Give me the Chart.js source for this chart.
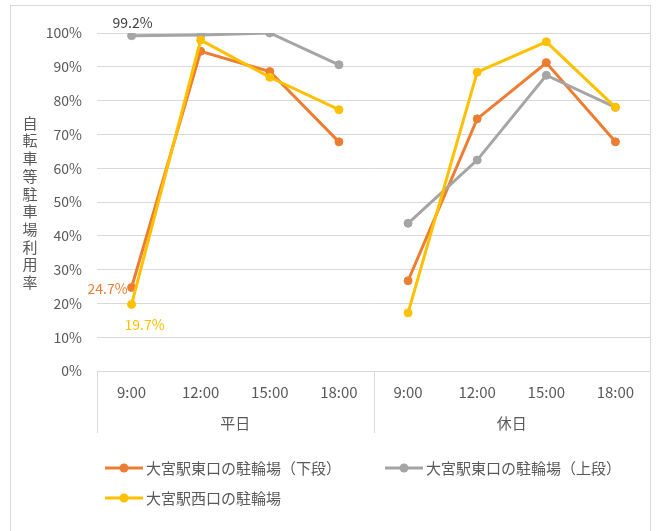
<!DOCTYPE html>
<html>
<head>
<meta charset="utf-8">
<script src="https://cdn.jsdelivr.net/npm/chart.js@4/dist/chart.umd.min.js"></script>
<style>
  html, body { margin: 0; padding: 0; background: #fff; }
  #wrap { width: 658px; height: 531px; }
</style>
</head>
<body>
<div id="wrap"><canvas id="chart" width="658" height="531"></canvas></div>
<script>
// データ
const groups = ['平日', '休日'];
const times = ['9:00', '12:00', '15:00', '18:00'];
const seriesNames = ['大宮駅東口の駐輪場（下段）', '大宮駅東口の駐輪場（上段）', '大宮駅西口の駐輪場'];
const eastLower = [24.7, 94.6, 88.6, 67.8, 26.7, 74.6, 91.2, 67.8];
const eastUpper = [99.2, 99.4, 100, 90.6, 43.7, 62.4, 87.5, 78.0];
const west = [19.7, 97.9, 86.9, 77.3, 17.2, 88.4, 97.4, 78.0];
const yTicks = [0, 10, 20, 30, 40, 50, 60, 70, 80, 90, 100];
const yTitle = '自転車等駐車場利用率';

const colors = ['#ED7D31', '#A5A5A5', '#FFC000'];
const labelColors = ['#ED7D31', '#404040', '#FFC000'];
const FONT = '"Noto Sans CJK JP", "Noto Sans", sans-serif';
const TEXT = '#595959';
const LINE = '#d9d9d9';

const labels = [];
groups.forEach(() => times.forEach(t => labels.push(t)));

// グループの境目で線を切る
const gapSeg = ctx => (ctx.p0DataIndex % times.length === times.length - 1) ? 'rgba(0,0,0,0)' : undefined;

function ds(i, data, order) {
    return {
        label: seriesNames[i], data: data, order: order,
        borderColor: colors[i], backgroundColor: colors[i],
        pointBackgroundColor: colors[i], pointBorderColor: colors[i],
        borderWidth: 3, pointRadius: 4, pointBorderWidth: 1, tension: 0,
        segment: { borderColor: gapSeg }
    };
}

const extras = {
    id: 'extras',
    beforeDraw(chart) {
        const c = chart.ctx;
        c.save();
        c.strokeStyle = LINE; c.lineWidth = 1;
        c.strokeRect(10.5, 5.5, 640, 600);
        c.restore();
    },
    afterDraw(chart) {
        const c = chart.ctx;
        const a = chart.chartArea;
        const x = chart.scales.x;
        c.save();

        // 軸タイトル（縦書き）
        c.fillStyle = TEXT;
        c.font = '15px ' + FONT;
        c.textAlign = 'center'; c.textBaseline = 'middle';
        [...yTitle].forEach((ch, k) => c.fillText(ch, 30, 123 + k * 17.7));

        // 区切り線とグループ名
        c.strokeStyle = LINE; c.lineWidth = 1;
        const n = times.length;
        const step = x.getPixelForValue(1) - x.getPixelForValue(0);
        for (let g = 0; g <= groups.length; g++) {
            const px = Math.round(x.getPixelForValue(g * n) - step / 2) + 0.5;
            c.beginPath(); c.moveTo(px, a.bottom); c.lineTo(px, a.bottom + 62); c.stroke();
        }
        c.font = '15px ' + FONT;
        groups.forEach((gName, g) => {
            const cx = (x.getPixelForValue(g * n) + x.getPixelForValue(g * n + n - 1)) / 2;
            c.fillText(gName, cx, a.bottom + 52);
        });

        // データラベル
        c.font = '14px ' + FONT;
        const metas = [0, 1, 2].map(i => chart.getDatasetMeta(i));
        const lbl = i => chart.data.datasets[i].data[0].toFixed(1) + '%';
        let p = metas[1].data[0];
        c.fillStyle = labelColors[1]; c.textAlign = 'center';
        c.fillText(lbl(1), p.x + 1, p.y - 13);
        p = metas[0].data[0];
        c.fillStyle = labelColors[0]; c.textAlign = 'right';
        c.fillText(lbl(0), p.x - 4, p.y + 1);
        p = metas[2].data[0];
        c.fillStyle = labelColors[2]; c.textAlign = 'left';
        c.fillText(lbl(2), p.x - 7, p.y + 20);

        // 凡例
        const lx = a.left + 8;
        const pos = [[lx, a.bottom + 97], [lx + 280, a.bottom + 97], [lx, a.bottom + 127]];
        c.font = '15px ' + FONT;
        c.textAlign = 'left';
        pos.forEach(([px, py], i) => {
            c.strokeStyle = colors[i]; c.lineWidth = 3;
            c.beginPath(); c.moveTo(px, py); c.lineTo(px + 38, py); c.stroke();
            c.fillStyle = colors[i];
            c.beginPath(); c.arc(px + 19, py, 4.5, 0, Math.PI * 2); c.fill();
            c.fillStyle = TEXT;
            c.fillText(seriesNames[i], px + 41, py);
        });
        c.restore();
    }
};

Chart.defaults.font.family = FONT;
Chart.defaults.color = TEXT;

new Chart(document.getElementById('chart'), {
    type: 'line',
    data: {
        labels: labels,
        datasets: [ds(0, eastLower, 3), ds(1, eastUpper, 2), ds(2, west, 1)]
    },
    options: {
        responsive: false,
        animation: false,
        devicePixelRatio: 1,
        layout: { padding: { left: 47, right: 8, top: 33, bottom: 0 } },
        plugins: { legend: { display: false }, tooltip: { enabled: false } },
        scales: {
            x: {
                offset: true,
                grid: { display: false, drawTicks: false },
                border: { color: LINE },
                ticks: { font: { size: 15 }, color: TEXT, padding: 12, maxRotation: 0, autoSkip: false },
                afterFit(s) { s.height = 160; }
            },
            y: {
                min: 0, max: 100,
                grid: { color: LINE, drawTicks: false },
                border: { display: false },
                afterBuildTicks(s) { s.ticks = yTicks.map(v => ({ value: v })); },
                ticks: { font: { size: 14 }, color: TEXT, padding: 15, callback: v => v + '%' },
                afterFit(s) { s.width = 50; }
            }
        }
    },
    plugins: [extras]
});
</script>
</body>
</html>
